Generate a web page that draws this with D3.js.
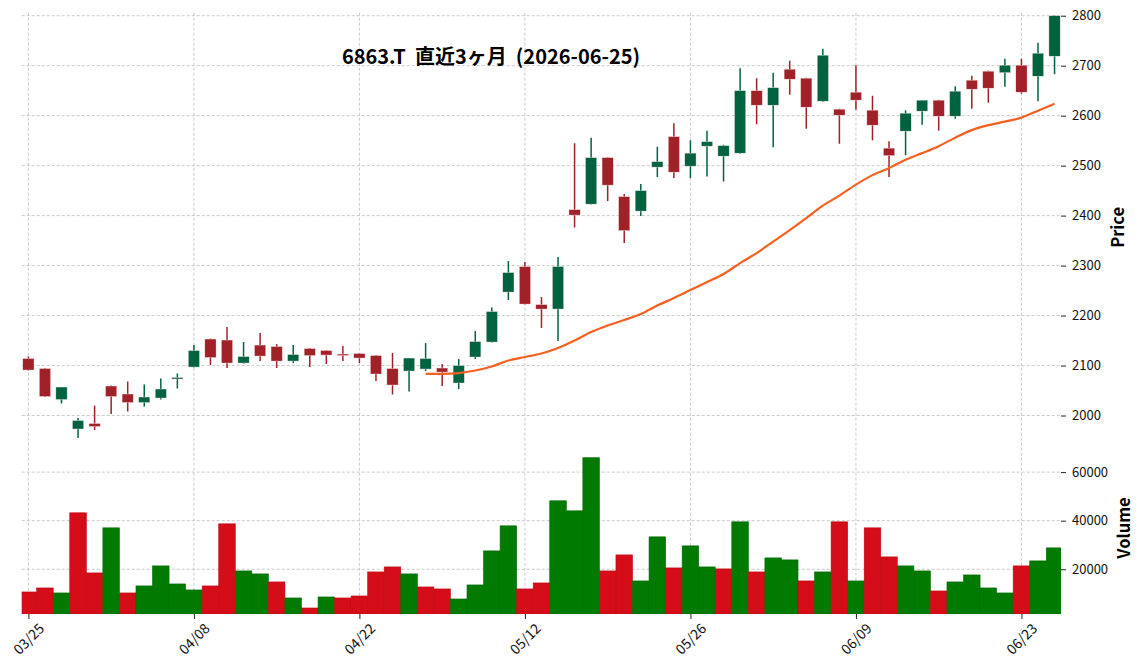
<!DOCTYPE html>
<html>
<head>
<meta charset="utf-8">
<style>
    body { margin: 0; background: #fff; }
    svg { display: block; font-family: 'Noto Sans CJK JP', 'Noto Sans', sans-serif; }
    .grid line { stroke: #bdbdbd; stroke-width: 0.8; stroke-dasharray: 3, 2; }
    .tick text { fill: #111; }
</style>
</head>
<body>
<svg width="1145" height="671"></svg>

<script src="https://cdn.jsdelivr.net/npm/d3@7"></script>
<script>
    // trading days, 03/25 .. 06/25
    let dates = ["03/25","03/26","03/27","03/30","03/31","04/01","04/02","04/03","04/06","04/07",
                 "04/08","04/09","04/10","04/13","04/14","04/15","04/16","04/17","04/20","04/21",
                 "04/22","04/23","04/24","04/27","04/28","04/30","05/01","05/07","05/08","05/11",
                 "05/12","05/13","05/14","05/15","05/18","05/19","05/20","05/21","05/22","05/25",
                 "05/26","05/27","05/28","05/29","06/01","06/02","06/03","06/04","06/05","06/08",
                 "06/09","06/10","06/11","06/12","06/15","06/16","06/17","06/18","06/19","06/22",
                 "06/23","06/24","06/25"]

    let opens  = [2114,2094,2032,1973,1984,2059,2043,2026,2035,2073,
                  2097,2153,2151,2105,2141,2138,2109,2134,2130,2123,
                  2124,2120,2094,2089,2093,2095,2065,2117,2147,2247,
                  2298,2222,2213,2412,2423,2516,2438,2409,2497,2558,
                  2499,2539,2519,2525,2650,2621,2693,2675,2629,2613,
                  2647,2611,2535,2569,2609,2631,2599,2671,2689,2686,
                  2701,2679,2719]
    let highs  = [2118,2095,2057,1995,2020,2060,2068,2062,2074,2084,
                  2141,2154,2177,2147,2165,2143,2141,2135,2131,2139,
                  2125,2121,2125,2115,2145,2103,2113,2169,2216,2309,
                  2307,2237,2317,2545,2556,2517,2443,2463,2538,2585,
                  2551,2570,2542,2695,2675,2686,2710,2676,2734,2614,
                  2701,2640,2549,2611,2631,2632,2659,2680,2690,2714,
                  2714,2746,2801]
    let lows   = [2090,2037,2024,1955,1971,2003,2008,2018,2032,2054,
                  2096,2101,2095,2104,2109,2095,2105,2097,2103,2109,
                  2105,2069,2042,2048,2089,2059,2053,2113,2146,2231,
                  2222,2175,2149,2376,2422,2429,2345,2399,2477,2475,
                  2475,2478,2468,2524,2583,2537,2642,2574,2628,2544,
                  2612,2551,2477,2521,2582,2570,2594,2614,2626,2658,
                  2644,2629,2683]
    let closes = [2091,2038,2057,1990,1978,2038,2026,2037,2053,2076,
                  2130,2116,2105,2118,2119,2109,2122,2120,2121,2120,
                  2115,2083,2061,2115,2114,2087,2100,2148,2208,2286,
                  2223,2213,2298,2401,2516,2461,2370,2450,2508,2487,
                  2525,2548,2540,2650,2621,2656,2673,2617,2721,2601,
                  2631,2581,2520,2605,2631,2599,2649,2653,2655,2701,
                  2647,2725,2800]
    let volumes = [10650,12300,10240,43240,18490,37050,10240,13130,21380,13950,
                   11480,13130,38700,19310,18080,14780,8180,4050,8590,8180,
                   9000,18900,20960,18080,12710,11890,7760,13540,27560,37880,
                   11890,14360,48190,44060,65930,19310,25910,15190,33340,20550,
                   29630,20960,20140,39530,18900,24680,23850,15190,18900,39530,
                   15190,37050,25090,21380,19310,11060,14780,17660,12300,10240,
                   21380,23440,28800]
    // 25-day moving average (starts at the 25th day)
    let ma25 = [null,null,null,null,null,null,null,null,null,null,
                null,null,null,null,null,null,null,null,null,null,
                null,null,null,null,2083.5,2083.5,2085,2090,2098,2110,
                2117,2124,2135,2150,2167,2180,2191,2203,2220,2235,
                2251,2267,2283,2305,2325,2348,2371,2395,2420,2440,
                2462,2481,2495,2512,2525,2539,2556,2571,2581,2588,
                2596,2610,2624]

    let priceTicks = [2000,2100,2200,2300,2400,2500,2600,2700,2800]
    let volumeTicks = [20000,40000,60000]
    let dateTicks = [0,10,20,30,40,50,60]

    let upCandle = "#006340", downCandle = "#A02128"
    let upVol = "#007a00", downVol = "#d50d18"

    let left = 21.7, right = 1061
    let pTop = 12.7, pBottom = 442, vBottom = 614

    let svg = d3.select("svg")

    let x = d3.scaleLinear().domain([-0.405, 62.39]).range([left, right])
    let yP = d3.scaleLinear().domain([1947, 2806]).range([pBottom, pTop])
    let yV = d3.scaleLinear().domain([1575, 72400]).range([vBottom, pBottom])
    let step = x(1) - x(0)

    let defs = svg.append("defs")
    defs.append("clipPath").attr("id", "clipP").append("rect")
        .attr("x", left).attr("y", pTop).attr("width", right - left).attr("height", pBottom - pTop)
    defs.append("clipPath").attr("id", "clipV").append("rect")
        .attr("x", left).attr("y", pBottom).attr("width", right - left).attr("height", vBottom - pBottom)

    // grid
    let grid = svg.append("g").attr("class", "grid")
    grid.selectAll(".vg").data(dateTicks).join("line")
        .attr("x1", d => x(d)).attr("x2", d => x(d))
        .attr("y1", pTop).attr("y2", vBottom)
    grid.selectAll(".hp").data(priceTicks).join("line")
        .attr("x1", left).attr("x2", right)
        .attr("y1", d => yP(d)).attr("y2", d => yP(d))
    grid.selectAll(".hv").data(volumeTicks).join("line")
        .attr("x1", left).attr("x2", right)
        .attr("y1", d => yV(d)).attr("y2", d => yV(d))

    let idx = d3.range(dates.length)

    // volume bars: colour from close vs previous close
    let volColor = i => {
        let up = i === 0 ? closes[0] >= opens[0] : closes[i] >= closes[i - 1]
        return up ? upVol : downVol
    }
    svg.append("g").attr("clip-path", "url(#clipV)")
        .selectAll("rect").data(idx).join("rect")
        .attr("x", i => x(i) - step / 2)
        .attr("width", step)
        .attr("y", i => yV(volumes[i]))
        .attr("height", i => vBottom - yV(volumes[i]))
        .attr("fill", i => volColor(i))
        .attr("stroke", i => d3.color(volColor(i)).darker(0.4))
        .attr("stroke-width", 0.6)

    // candles
    let candles = svg.append("g").attr("clip-path", "url(#clipP)")
    let cColor = i => closes[i] >= opens[i] ? upCandle : downCandle
    candles.selectAll("line").data(idx).join("line")
        .attr("x1", i => x(i)).attr("x2", i => x(i))
        .attr("y1", i => yP(highs[i])).attr("y2", i => yP(lows[i]))
        .attr("stroke", i => cColor(i))
        .attr("stroke-width", 1.5)
    candles.selectAll("rect").data(idx).join("rect")
        .attr("x", i => x(i) - step * 0.34)
        .attr("width", step * 0.68)
        .attr("y", i => yP(Math.max(opens[i], closes[i])))
        .attr("height", i => Math.max(1.2, Math.abs(yP(opens[i]) - yP(closes[i]))))
        .attr("fill", i => cColor(i))
        .attr("stroke", "#fbeaea")
        .attr("stroke-width", 0.4)

    // moving average
    let maLine = d3.line()
        .defined(i => ma25[i] !== null)
        .x(i => x(i))
        .y(i => yP(ma25[i]))
        .curve(d3.curveMonotoneX)
    svg.append("path")
        .attr("d", maLine(idx))
        .attr("fill", "none")
        .attr("stroke", "#f4601f")
        .attr("stroke-width", 2.2)

    // right axes
    let pAxis = svg.append("g")
        .attr("transform", `translate(${right},0)`)
        .call(d3.axisRight(yP).tickValues(priceTicks).tickSize(5).tickPadding(6).tickFormat(d3.format("d")))
    let vAxis = svg.append("g")
        .attr("transform", `translate(${right},0)`)
        .call(d3.axisRight(yV).tickValues(volumeTicks).tickSize(5).tickPadding(6).tickFormat(d3.format("d")))
    for (let a of [pAxis, vAxis]) {
        a.select(".domain").remove()
        a.selectAll(".tick line").attr("stroke", "#222")
        a.selectAll(".tick text").style("font-size", "13px").style("font-family", "'Noto Sans CJK JP', sans-serif")
    }

    // x axis
    let xAxis = svg.append("g")
        .attr("transform", `translate(0,${vBottom})`)
        .call(d3.axisBottom(x).tickValues(dateTicks).tickSize(5).tickFormat(i => dates[i]))
    xAxis.select(".domain").remove()
    xAxis.selectAll(".tick line").attr("stroke", "#222")
    xAxis.selectAll(".tick text")
        .attr("y", 25).attr("dy", "0.35em")
        .attr("text-anchor", "middle")
        .attr("transform", "rotate(-45, 0, 25)")
        .style("font-size", "14px")
        .style("font-family", "'Noto Sans CJK JP', sans-serif")

    // axis titles
    svg.append("text")
        .attr("transform", `translate(1124,${(pTop + pBottom) / 2}) rotate(-90)`)
        .attr("text-anchor", "middle")
        .style("font-size", "16.5px").style("font-weight", "bold")
        .text("Price")
    svg.append("text")
        .attr("transform", `translate(1130,${(pBottom + vBottom) / 2}) rotate(-90)`)
        .attr("text-anchor", "middle")
        .style("font-size", "16.5px").style("font-weight", "bold")
        .text("Volume")

    // title
    svg.append("text")
        .attr("x", 491).attr("y", 64)
        .attr("text-anchor", "middle")
        .style("font-size", "20px").style("font-weight", "bold")
        .style("white-space", "pre")
        .text("6863.T  直近3ヶ月  (2026-06-25)")
</script>
</body>
</html>
